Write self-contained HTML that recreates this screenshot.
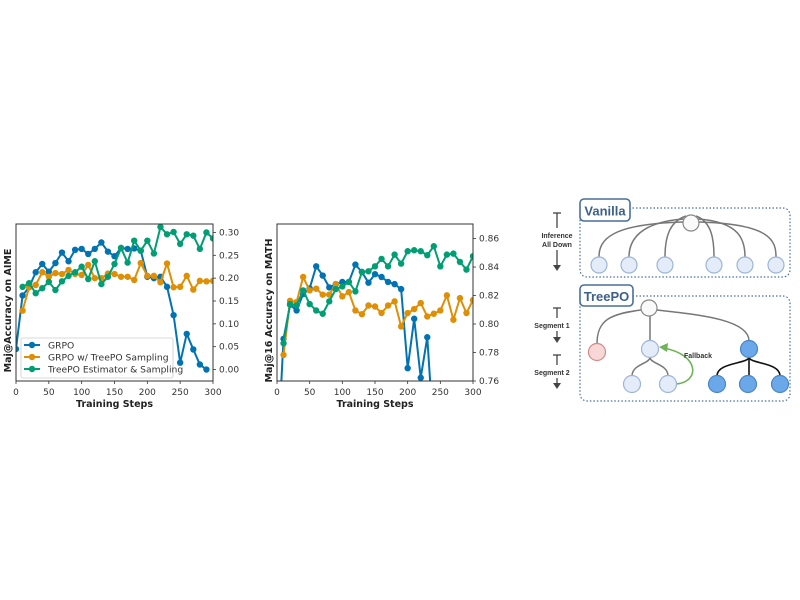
<!DOCTYPE html>
<html><head><meta charset="utf-8">
<style>
html,body{margin:0;padding:0;background:#fff;width:800px;height:600px;overflow:hidden;}
svg{display:block;font-family:"DejaVu Sans","Liberation Sans",sans-serif;}
.tick{font-size:9px;fill:#333;}
.axt{font-size:9.5px;font-weight:bold;fill:#222;}
.leg{font-size:9.2px;fill:#333;}
.dlab{font-size:7px;font-weight:bold;fill:#333;font-family:"Liberation Sans",sans-serif;}
</style></head>
<body>
<svg id="svg" width="800" height="600" viewBox="0 0 800 600">
  <g id="chart1"></g>
  <g id="chart2"></g>
  <g id="diagram">
    <rect x="580" y="208" width="210" height="69" rx="7" fill="none" stroke="#4a6f96" stroke-width="1.2" stroke-dasharray="1.5,2"/>
    <rect x="580" y="199" width="50" height="22" rx="4" fill="#fff" stroke="#4a6f96" stroke-width="1.6"/>
    <text x="605" y="215.5" text-anchor="middle" font-size="13" font-weight="bold" fill="#3d6088" font-family="Liberation Sans,sans-serif">Vanilla</text>
    <g fill="none" stroke="#777" stroke-width="1.5">
      <path d="M683,222 C610,224 599,240 599,257"/>
      <path d="M684,219 C640,222 629,240 629,257"/>
      <path d="M686,216 C668,222 665,240 665,257"/>
      <path d="M696,216 C712,222 714,240 714,257"/>
      <path d="M698,219 C740,222 745,240 745,257"/>
      <path d="M699,222 C770,224 776,240 776,257"/>
    </g>
    <circle cx="691" cy="223" r="8" fill="#fafafa" stroke="#888" stroke-width="1.2"/>
    <g fill="#e3ecf8" stroke="#9db5d6" stroke-width="1.2">
      <circle cx="599" cy="265" r="8"/><circle cx="629" cy="265" r="8"/><circle cx="665" cy="265" r="8"/>
      <circle cx="714" cy="265" r="8"/><circle cx="745" cy="265" r="8"/><circle cx="776" cy="265" r="8"/>
    </g>
    <rect x="580" y="296" width="210" height="105" rx="7" fill="none" stroke="#4a6f96" stroke-width="1.2" stroke-dasharray="1.5,2"/>
    <rect x="580" y="285" width="53" height="21" rx="4" fill="#fff" stroke="#4a6f96" stroke-width="1.6"/>
    <text x="606.5" y="301" text-anchor="middle" font-size="13" font-weight="bold" fill="#3d6088" font-family="Liberation Sans,sans-serif">TreePO</text>
    <g fill="none" stroke="#777" stroke-width="1.5">
      <path d="M641,310 C610,314 597,320 597,344"/>
      <path d="M650,316 L650,341"/>
      <path d="M657,310 C690,314 749,318 749,341"/>
      <path d="M650,357 C650,364 632,364 632,376"/>
      <path d="M650,357 C650,364 668,364 668,376"/>
    </g>
    <g fill="none" stroke="#111" stroke-width="1.6">
      <path d="M749,357 C749,364 717,362 717,376"/>
      <path d="M749,357 L749,376"/>
      <path d="M749,357 C749,364 780,362 780,376"/>
    </g>
    <path d="M676,384 C700,382 700,355 664,348" fill="none" stroke="#6fb356" stroke-width="1.6"/>
    <path d="M659,347 L668,343 L667,352 Z" fill="#6fb356"/>
    <text x="698" y="358" text-anchor="middle" class="dlab">Fallback</text>
    <circle cx="649" cy="308" r="8" fill="#fafafa" stroke="#888" stroke-width="1.2"/>
    <circle cx="597" cy="352" r="8.5" fill="#f8d7d7" stroke="#d28a8a" stroke-width="1.2"/>
    <circle cx="650" cy="349" r="8.5" fill="#e3ecf8" stroke="#9db5d6" stroke-width="1.2"/>
    <circle cx="749" cy="349" r="8.5" fill="#6aa8ea" stroke="#4b86c6" stroke-width="1.2"/>
    <g>
      <circle cx="632" cy="384" r="8.5" fill="#e3ecf8" stroke="#9db5d6" stroke-width="1.2"/>
      <circle cx="668" cy="384" r="8.5" fill="#e3ecf8" stroke="#9db5d6" stroke-width="1.2"/>
      <circle cx="717" cy="384" r="8.5" fill="#6aa8ea" stroke="#4b86c6" stroke-width="1.2"/>
      <circle cx="748" cy="384" r="8.5" fill="#6aa8ea" stroke="#4b86c6" stroke-width="1.2"/>
      <circle cx="780" cy="384" r="8.5" fill="#6aa8ea" stroke="#4b86c6" stroke-width="1.2"/>
    </g>
    <g stroke="#444" stroke-width="1.3" fill="#444">
      <line x1="553" y1="213" x2="561" y2="213"/><line x1="557" y1="213" x2="557" y2="228"/>
      <line x1="557" y1="250" x2="557" y2="266"/><path d="M553,265 L561,265 L557,271 Z" stroke="none"/>
      <line x1="553" y1="308" x2="561" y2="308"/><line x1="557" y1="308" x2="557" y2="318"/>
      <line x1="557" y1="331" x2="557" y2="338"/><path d="M553,337 L561,337 L557,343 Z" stroke="none"/>
      <line x1="553" y1="355" x2="561" y2="355"/><line x1="557" y1="355" x2="557" y2="365"/>
      <line x1="557" y1="378" x2="557" y2="384"/><path d="M553,383 L561,383 L557,389 Z" stroke="none"/>
    </g>
    <text x="557" y="238" text-anchor="middle" class="dlab">Inference</text>
    <text x="557" y="247" text-anchor="middle" class="dlab">All Down</text>
    <text x="552" y="328" text-anchor="middle" class="dlab">Segment 1</text>
    <text x="552" y="375" text-anchor="middle" class="dlab">Segment 2</text>
  </g>
</svg>
<script>
const steps = [0,10,20,30,40,50,60,70,80,90,100,110,120,130,140,150,160,170,180,190,200,210,220,230,240,250,260,270,280,290,300];
const aimeGrpo = [0.045,0.162,0.18,0.213,0.231,0.214,0.233,0.256,0.237,0.262,0.264,0.253,0.264,0.278,0.258,0.248,0.266,0.264,0.265,0.26,0.203,0.2,0.203,0.181,0.119,0.015,0.078,0.044,0.011,0.0,null];
const aimeSampling = [null,0.129,0.18,0.185,0.213,0.203,0.211,0.209,0.218,0.209,0.207,0.229,0.2,0.2,0.21,0.209,0.203,0.203,0.196,0.233,0.205,0.205,0.191,0.232,0.18,0.181,0.205,0.175,0.194,0.193,0.194];
const aimeTreepo = [null,0.181,0.189,0.167,0.178,0.192,0.174,0.193,0.205,0.213,0.225,0.198,0.237,0.187,0.203,0.231,0.266,0.234,0.282,0.26,0.282,0.254,0.312,0.296,0.301,0.275,0.296,0.293,0.264,0.3,0.287];
const mathGrpo = [0.70,0.7896,0.8135,0.8095,0.821,0.825,0.8405,0.834,0.8257,0.828,0.8295,0.8295,0.8417,0.8365,0.829,0.835,0.833,0.8295,0.828,0.8245,0.769,0.8037,0.7623,0.7907,0.72,null,null,null,null,null,null];
const mathSampling = [null,0.7783,0.8163,0.8154,0.833,0.8236,0.8248,0.8206,0.8206,0.828,0.8194,0.8224,0.8095,0.8069,0.813,0.8123,0.8077,0.813,0.8159,0.7983,0.8077,0.8105,0.8147,0.8053,0.8072,0.8095,0.8201,0.803,0.8182,0.8077,0.8168];
const mathTreepo = [null,0.7865,0.814,0.813,0.8236,0.814,0.8095,0.8072,0.8159,0.8245,0.8264,0.8295,0.8229,0.8365,0.837,0.8405,0.8457,0.8405,0.8487,0.8424,0.8511,0.8518,0.8511,0.8483,0.8546,0.8405,0.8487,0.8494,0.8436,0.8382,0.8476];
const xTicks = [0,50,100,150,200,250,300];
const aimeTicks = [0.00,0.05,0.10,0.15,0.20,0.25,0.30];
const mathTicks = [0.76,0.78,0.80,0.82,0.84,0.86];
const seriesNames = ['GRPO','GRPO w/ TreePO Sampling','TreePO Estimator & Sampling'];
const colors = ['#0173b2','#de8f05','#029e73'];
const NS='http://www.w3.org/2000/svg';
function mk(tag,attrs,parent){const e=document.createElementNS(NS,tag);for(const k in attrs)e.setAttribute(k,attrs[k]);parent.appendChild(e);return e;}

function drawChart(g, cfg){
  const {L,R,T,B,ymin,ymax,yTicks,series,ylabel,clipId} = cfg;
  const xs = v => L + (v-0)/(300-0)*(R-L);
  const ys = v => B - (v-ymin)/(ymax-ymin)*(B-T);
  const defs = mk('defs',{},g);
  const cp = mk('clipPath',{id:clipId},defs);
  mk('rect',{x:L,y:T,width:R-L,height:B-T},cp);
  const plot = mk('g',{'clip-path':'url(#'+clipId+')'},g);
  
  
  series.forEach((vals,si)=>{
    const sg = mk('g',{},plot);
    
    
    let d='';
    vals.forEach((v,i)=>{ if(v===null) return; d += (d===''?'M':'L')+xs(steps[i]).toFixed(2)+','+ys(v).toFixed(2); });
    const p = mk('path',{d:d,fill:'none',stroke:colors[si],'stroke-width':2},sg);
    
    
    vals.forEach((v,i)=>{ if(v===null) return;
      const c = mk('circle',{cx:xs(steps[i]),cy:ys(v),r:3.2,fill:colors[si]},sg);
      
      
    });
  });
  const frame = mk('rect',{x:L,y:T,width:R-L,height:B-T,fill:'none',stroke:'#333','stroke-width':1},g);
  
  
  xTicks.forEach(t=>{
    mk('line',{x1:xs(t),x2:xs(t),y1:B,y2:B+3,stroke:'#333','stroke-width':0.8},g);
    const tx = mk('text',{x:xs(t),y:B+14,'text-anchor':'middle',class:'tick'},g);
    tx.textContent = t;
    
    
  });
  yTicks.forEach(t=>{
    mk('line',{x1:R,x2:R+3,y1:ys(t),y2:ys(t),stroke:'#333','stroke-width':0.8},g);
    const tx = mk('text',{x:R+6,y:ys(t)+3,class:'tick'},g);
    tx.textContent = t.toFixed(2);
    
    
  });
  const xt = mk('text',{x:(L+R)/2,y:B+26,'text-anchor':'middle',class:'axt'},g);
  xt.textContent='Training Steps';
  
  
  const cy=(T+B)/2+8;
  const yt = mk('text',{x:L-5,y:cy,'text-anchor':'middle',class:'axt',transform:'rotate(-90 '+(L-5)+' '+cy+')'},g);
  yt.textContent=ylabel;
  
  
}

drawChart(document.getElementById('chart1'),{L:16,R:213,T:224,B:381,ymin:-0.0251,ymax:0.3185,yTicks:aimeTicks,series:[aimeGrpo,aimeSampling,aimeTreepo],ylabel:'Maj@Accuracy on AIME',clipId:'c1'});
drawChart(document.getElementById('chart2'),{L:277,R:473,T:224,B:381,ymin:0.76,ymax:0.8702,yTicks:mathTicks,series:[mathGrpo,mathSampling,mathTreepo],ylabel:'Maj@16 Accuracy on MATH',clipId:'c2'});

const c1 = document.getElementById('chart1');
const lg = mk('g',{},c1);


mk('rect',{x:21,y:338,width:152,height:40,rx:2,fill:'#fff','fill-opacity':0.85,stroke:'#ccc','stroke-width':0.8},lg);
seriesNames.forEach((n,i)=>{
  const y = 345 + i*12;
  const e = mk('g',{},lg);
  
  
  mk('line',{x1:24,x2:40,y1:y,y2:y,stroke:colors[i],'stroke-width':2},e);
  mk('circle',{cx:32,cy:y,r:3.2,fill:colors[i]},e);
  const t = mk('text',{x:48,y:y+3.3,class:'leg'},e);
  t.textContent = n;
});
</script>
</body></html>
